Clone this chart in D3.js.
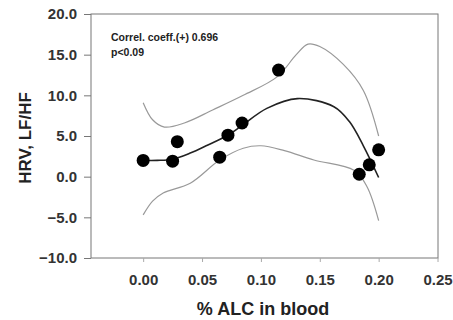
<!DOCTYPE html>
<html>
  <head>
    <meta charset="utf-8" />
    <script src="https://d3js.org/d3.v7.min.js"></script>
    <style>
      body { margin: 0; background: #fff; }
      text { font-family: "Liberation Sans", Arial, sans-serif; font-weight: bold; fill: #222; }
    </style>
  </head>
  <body>
    <svg id="chart"></svg>
    <script>
      // measured points
      var alc = [0.0, 0.025, 0.029, 0.065, 0.072, 0.084, 0.115, 0.1835, 0.192, 0.2];
      var hrv = [2.0, 1.9, 4.3, 2.4, 5.1, 6.6, 13.1, 0.3, 1.45, 3.3];

      // fitted curve and confidence band
      var fitX = [0.0, 0.012, 0.025, 0.04, 0.055, 0.072, 0.084, 0.105, 0.131, 0.162, 0.175, 0.187, 0.2];
      var fitY = [2.0, 2.0, 2.15, 2.9, 3.9, 5.1, 6.3, 8.4, 9.6, 8.6, 6.8, 3.8, -0.1];

      var upX = [0.0, 0.008, 0.018, 0.035, 0.059, 0.085, 0.114, 0.13, 0.14, 0.15, 0.17, 0.187, 0.2];
      var upY = [9.1, 7.0, 6.1, 6.6, 8.2, 10.0, 12.3, 15.0, 16.3, 16.0, 13.8, 10.6, 5.0];

      var loX = [0.0, 0.008, 0.017, 0.04, 0.065, 0.085, 0.1, 0.12, 0.145, 0.179, 0.19, 0.2];
      var loY = [-4.7, -3.0, -2.0, -0.8, 2.05, 3.5, 3.8, 3.2, 2.05, 0.8, -1.2, -5.4];

      var xTicks = [0.0, 0.05, 0.1, 0.15, 0.2, 0.25];
      var yTicks = [-10, -5, 0, 5, 10, 15, 20];

      var width = 453;
      var height = 320;
      var margin = { left: 91, top: 14, right: 15, bottom: 62 };

      var svg = d3.select("#chart").attr("width", width).attr("height", height);

      var x = d3.scaleLinear().domain([-0.0443, 0.2504]).range([margin.left, width - margin.right]);
      var y = d3.scaleLinear().domain([-10, 20]).range([height - margin.bottom, margin.top]);

      // frame
      svg.append("rect")
        .attr("x", margin.left)
        .attr("y", margin.top)
        .attr("width", width - margin.right - margin.left)
        .attr("height", height - margin.bottom - margin.top)
        .attr("fill", "none")
        .attr("stroke", "#777")
        .attr("stroke-width", 1);

      // axes
      var yAxis = d3.axisLeft(y).tickValues(yTicks).tickSize(7).tickPadding(7).tickFormat(d3.format(".1f"));
      var gy = svg.append("g").attr("transform", "translate(" + margin.left + ",0)").call(yAxis);
      gy.select(".domain").remove();
      gy.selectAll("line").attr("stroke", "#777");
      gy.selectAll("text").style("font-size", "15px").style("fill", "#333");

      var xAxis = d3.axisBottom(x).tickValues(xTicks).tickSize(4).tickPadding(12).tickFormat(d3.format(".2f"));
      var gx = svg.append("g").attr("transform", "translate(0," + (height - margin.bottom) + ")").call(xAxis);
      gx.select(".domain").remove();
      gx.selectAll("line").attr("stroke", "#aaa");
      gx.selectAll("text").style("font-size", "15px").style("fill", "#333");

      // lines
      var line = d3.line()
        .x((d) => x(d[0]))
        .y((d) => y(d[1]))
        .curve(d3.curveCatmullRom);

      svg.append("path")
        .datum(d3.zip(upX, upY))
        .attr("d", line)
        .attr("fill", "none")
        .attr("stroke", "#999")
        .attr("stroke-width", 1.2);

      svg.append("path")
        .datum(d3.zip(loX, loY))
        .attr("d", line)
        .attr("fill", "none")
        .attr("stroke", "#999")
        .attr("stroke-width", 1.2);

      svg.append("path")
        .datum(d3.zip(fitX, fitY))
        .attr("d", line)
        .attr("fill", "none")
        .attr("stroke", "#222")
        .attr("stroke-width", 1.6);

      // points
      svg.append("g")
        .selectAll("circle")
        .data(d3.zip(alc, hrv))
        .join("circle")
        .attr("cx", (d) => x(d[0]))
        .attr("cy", (d) => y(d[1]))
        .attr("r", 6.5)
        .attr("fill", "#000");

      // annotation
      svg.append("text").attr("x", 111).attr("y", 41).style("font-size", "10.5px").text("Correl. coeff.(+) 0.696");
      svg.append("text").attr("x", 111).attr("y", 56).style("font-size", "10.5px").text("p<0.09");

      // axis titles
      svg.append("text")
        .attr("transform", "translate(31,138) rotate(-90)")
        .attr("text-anchor", "middle")
        .style("font-size", "17px")
        .text("HRV, LF/HF");

      svg.append("text")
        .attr("x", 263)
        .attr("y", 315)
        .attr("text-anchor", "middle")
        .style("font-size", "18px")
        .text("% ALC in blood");
    </script>
  </body>
</html>
